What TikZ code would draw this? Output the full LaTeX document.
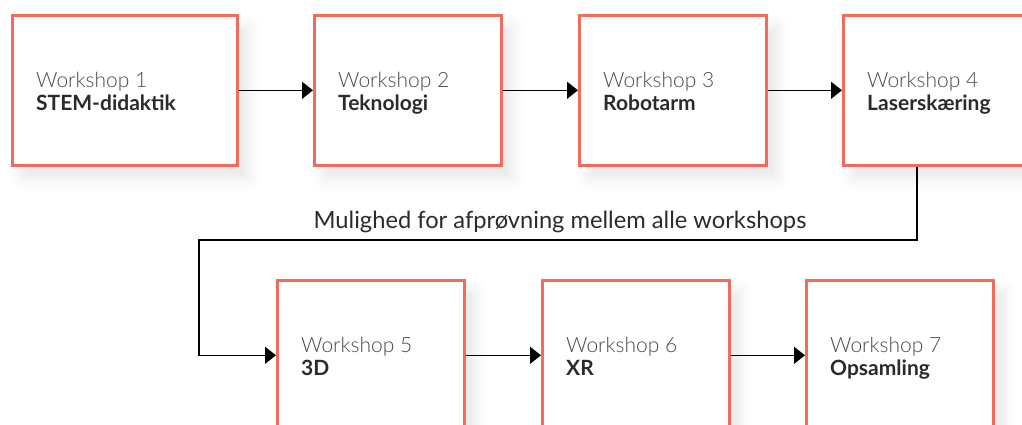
\documentclass[tikz,border=0pt]{standalone}
\usepackage{fontspec}
\setmainfont{Lato}
\newfontfamily\lightfont{Lato Light}
\usetikzlibrary{arrows.meta,shadows.blur}

\definecolor{boxline}{HTML}{F26B5B}
\definecolor{titletext}{HTML}{4A4A4A}
\definecolor{nametext}{HTML}{2B2B2B}

\begin{document}
\begin{tikzpicture}[x=1pt,y=1pt,
  wsbox/.style={draw=boxline, line width=2.6pt, fill=white, anchor=north west,
    inner sep=0pt, minimum height=150pt,
    blur shadow={shadow xshift=10pt, shadow yshift=-12pt,
      shadow blur radius=13pt, shadow opacity=10}},
  wstitle/.style={anchor=base west, inner sep=0pt, text=titletext,
    font=\lightfont\fontsize{21}{24}\selectfont},
  wsname/.style={anchor=base west, inner sep=0pt, text=nametext,
    font=\bfseries\fontsize{21}{24}\selectfont},
  flow/.style={line width=1.3pt, -{Triangle[length=11pt,width=17pt]}},
  note/.style={inner sep=0pt, anchor=base, text=nametext,
    font=\fontsize{23.7}{28}\selectfont}]

\useasboundingbox (0,0) rectangle (1022,-425);
\clip (0,0) rectangle (1022,-425);

% upper row
\node[wsbox, minimum width=225pt] (b1) at (11,-14) {};
\node[wsbox, minimum width=187pt] (b2) at (313,-14) {};
\node[wsbox, minimum width=187pt] (b3) at (578,-14) {};
\node[wsbox, minimum width=187pt] (b4) at (842,-14) {};
% lower row
\node[wsbox, minimum width=187pt] (b5) at (276,-279) {};
\node[wsbox, minimum width=187pt] (b6) at (541,-279) {};
\node[wsbox, minimum width=187pt] (b7) at (805,-279) {};

% box texts
\foreach \b/\n/\t in {b1/1/STEM-didaktik, b2/2/Teknologi, b3/3/Robotarm,
    b4/4/Laserskæring, b5/5/3D, b6/6/XR, b7/7/Opsamling}{
  \node[wstitle] (\b t) at ([xshift=25pt, yshift=3pt]\b.west) {Workshop \n};
  \node[wsname] (\b n) at ([xshift=25pt, yshift=-20pt]\b.west) {\t};
}

% connectors
\draw[flow] (b1.east) -- (b2.west);
\draw[flow] (b2.east) -- (b3.west);
\draw[flow] (b3.east) -- (b4.west);
\draw[flow] (b5.east) -- (b6.west);
\draw[flow] (b6.east) -- (b7.west);

\coordinate (turnA) at (917,-240);
\coordinate (turnB) at (199,-240);
\draw[flow] (b4.south -| turnA) -- (turnA) -- (turnB) |- (b5.west);

\node[note] (lbl) at (560,-228) {Mulighed for afprøvning mellem alle workshops};

\end{tikzpicture}
\end{document}
